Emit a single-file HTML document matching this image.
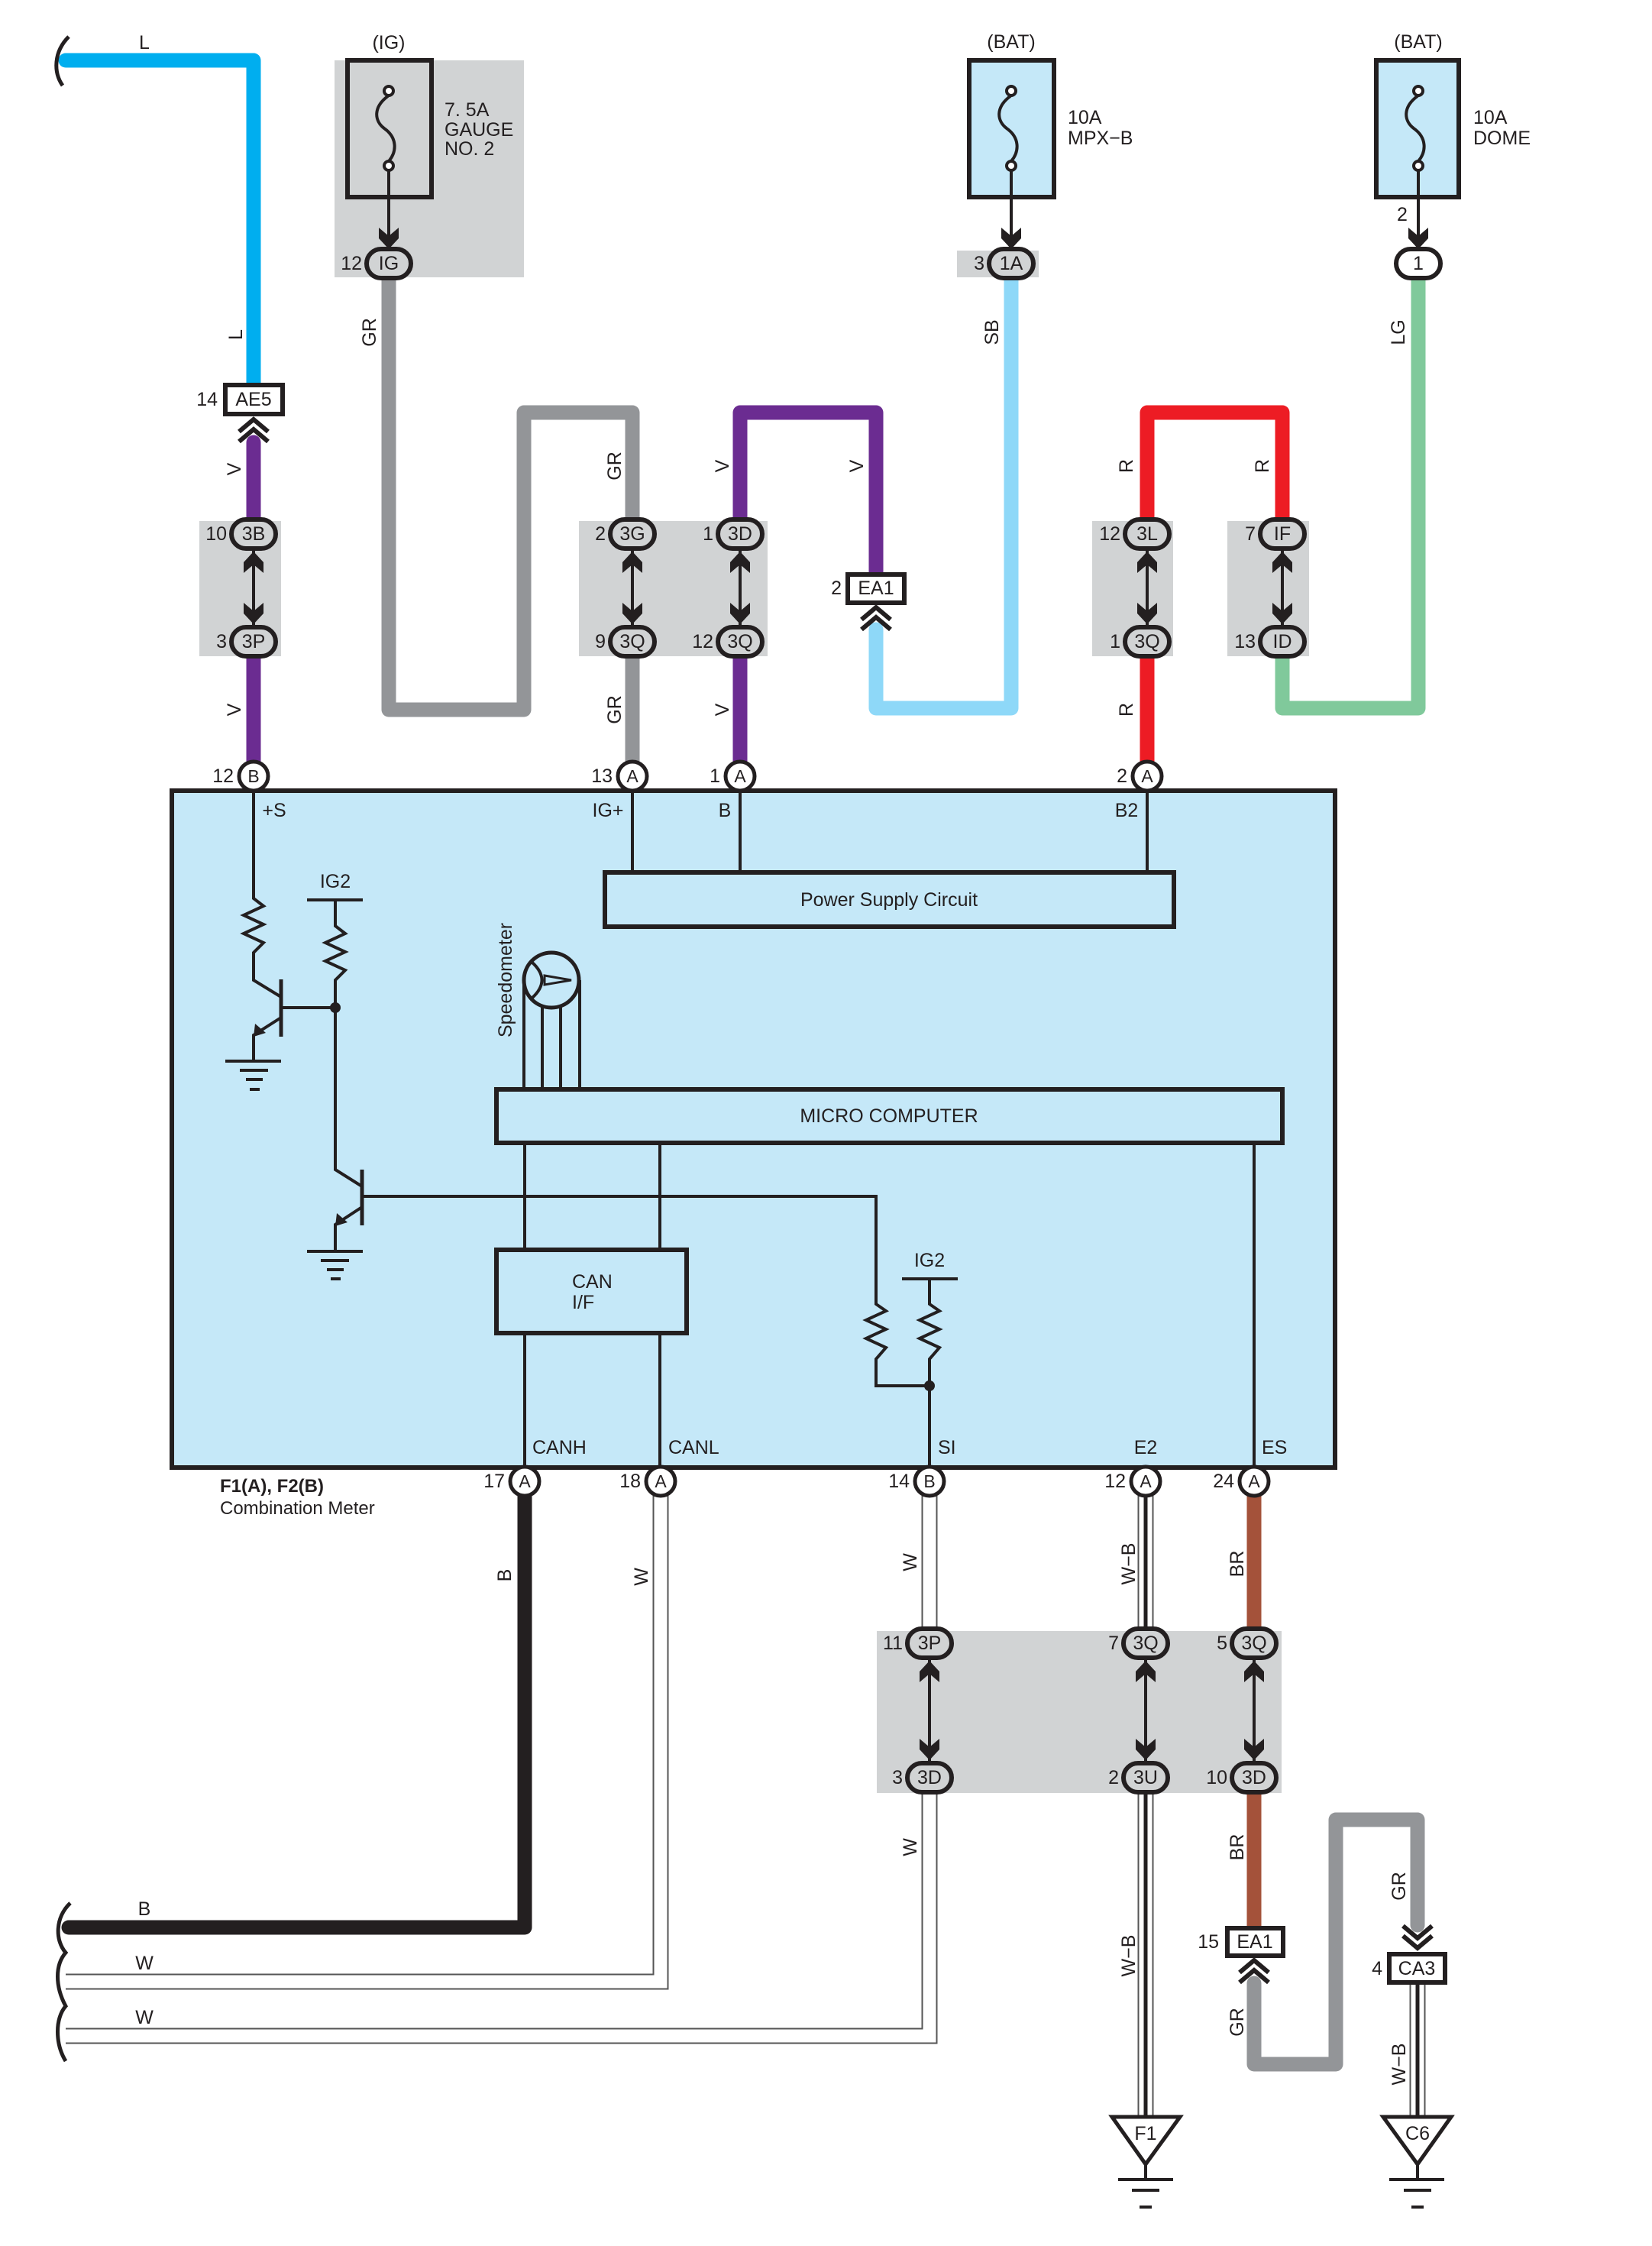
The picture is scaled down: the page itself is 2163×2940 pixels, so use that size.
<!DOCTYPE html>
<html><head><meta charset="utf-8"><style>
html,body{margin:0;padding:0;background:#fff}
svg{display:block}
text{font-family:"Liberation Sans Narrow","Liberation Sans",sans-serif;fill:#231f20;font-size:25px}
.c{text-anchor:middle;dominant-baseline:central}
.r{text-anchor:end;dominant-baseline:central}
.l{text-anchor:start;dominant-baseline:central}
.ln{stroke:#231f20;stroke-width:4;fill:none}
.ov{fill:#d1d3d4;stroke:#231f20;stroke-width:6}
.ovw{fill:#fff;stroke:#231f20;stroke-width:6}
.pin{fill:#fff;stroke:#231f20;stroke-width:5}
.bx{fill:#c5e8f8;stroke:#231f20;stroke-width:6}
.cb{fill:#fff;stroke:#231f20;stroke-width:6}
.w{fill:none;stroke-width:19;stroke-linejoin:round;stroke-linecap:round}
.chev{fill:none;stroke:#231f20;stroke-width:6}
.wo{fill:none;stroke:#555;stroke-width:21}
.wi{fill:none;stroke:#fff;stroke-width:17}
.wb{fill:none;stroke:#231f20;stroke-width:5}
</style></head><body>
<svg width="2163" height="2940" viewBox="0 0 2163 2940" xmlns="http://www.w3.org/2000/svg">
<defs>
<polygon id="au" points="0,0 13,14 13,28 0,17 -13,28 -13,14" fill="#231f20"/>
<polygon id="ad" points="0,0 13,-14 13,-28 0,-17 -13,-28 -13,-14" fill="#231f20"/>
<g id="chu"><polyline class="chev" points="-19,16 0,0 19,16"/><polyline class="chev" points="-19,29 0,13 19,29"/></g>
<g id="chd"><polyline class="chev" points="-19,-16 0,0 19,-16"/><polyline class="chev" points="-19,-29 0,-13 19,-29"/></g>
</defs>

<rect x="438" y="79" width="248" height="284" fill="#d1d3d4"/>
<rect x="1253" y="328" width="107" height="35" fill="#d1d3d4"/>
<rect x="261" y="682" width="107" height="177" fill="#d1d3d4"/>
<rect x="758" y="682" width="247" height="177" fill="#d1d3d4"/>
<rect x="1430" y="682" width="106" height="177" fill="#d1d3d4"/>
<rect x="1607" y="682" width="107" height="177" fill="#d1d3d4"/>

<path class="w" stroke="#00aeef" d="M86,79 H332 V504"/>
<path class="w" stroke="#6b2c91" d="M332,579 V699"/>
<path class="w" stroke="#6b2c91" d="M332,840 V1000"/>
<path class="w" stroke="#939598" d="M509,363 V929 H686 V540 H828 V699"/>
<path class="w" stroke="#939598" d="M828,840 V1000"/>
<path class="w" stroke="#6b2c91" d="M969,699 V540 H1147 V752"/>
<path class="w" stroke="#6b2c91" d="M969,840 V1000"/>
<path class="w" stroke="#8ed8f8" d="M1147,824 V927 H1324 V363"/>
<path class="w" stroke="#ed1c24" d="M1502,699 V540 H1679 V699"/>
<path class="w" stroke="#ed1c24" d="M1502,840 V1000"/>
<path class="w" stroke="#80c99b" d="M1679,840 V927 H1857 V363"/>

<path d="M90,48 C70,68 70,95 82,112" fill="none" stroke="#231f20" stroke-width="5"/>
<text class="c" x="189" y="56">L</text>
<text class="c" transform="translate(309,438) rotate(-90)">L</text>

<rect class="cb" x="295" y="504" width="75" height="38"/>
<text class="c" x="332" y="523">AE5</text>
<text class="r" x="285" y="523">14</text>
<use href="#chu" x="332" y="549"/>
<text class="c" transform="translate(307,614) rotate(-90)">V</text>
<text class="c" transform="translate(307,929) rotate(-90)">V</text>

<line class="ln" x1="332" y1="720" x2="332" y2="820"/>
<use href="#au" x="332" y="722"/><use href="#ad" x="332" y="817"/>
<rect class="ov" x="303" y="680" width="58" height="38" rx="19"/><text class="c" x="332" y="699">3B</text>
<rect class="ov" x="303" y="821" width="58" height="38" rx="19"/><text class="c" x="332" y="840">3P</text>
<text class="r" x="297" y="699">10</text><text class="r" x="297" y="840">3</text>

<text class="c" x="509" y="56">(IG)</text>
<rect x="455" y="79" width="110" height="179" fill="#d1d3d4" stroke="#231f20" stroke-width="6"/>
<circle cx="509" cy="119" r="6" fill="#fff" stroke="#231f20" stroke-width="4"/>
<circle cx="509" cy="217" r="6" fill="#fff" stroke="#231f20" stroke-width="4"/>
<path d="M509,125 C488,140 490,158 503,168 C520,180 520,198 509,211" class="ln"/>
<line class="ln" x1="509" y1="223" x2="509" y2="310"/>
<use href="#ad" x="509" y="326"/>
<rect class="ov" x="480" y="326" width="58" height="38" rx="19"/><text class="c" x="509" y="345">IG</text>
<text class="r" x="474" y="345">12</text>
<text class="l" x="582" y="144">7. 5A</text>
<text class="l" x="582" y="170">GAUGE</text>
<text class="l" x="582" y="195">NO. 2</text>
<text class="c" transform="translate(484,435) rotate(-90)">GR</text>

<line class="ln" x1="828" y1="720" x2="828" y2="820"/>
<use href="#au" x="828" y="722"/><use href="#ad" x="828" y="817"/>
<line class="ln" x1="969" y1="720" x2="969" y2="820"/>
<use href="#au" x="969" y="722"/><use href="#ad" x="969" y="817"/>
<rect class="ov" x="799" y="680" width="58" height="38" rx="19"/><text class="c" x="828" y="699">3G</text>
<rect class="ov" x="799" y="821" width="58" height="38" rx="19"/><text class="c" x="828" y="840">3Q</text>
<rect class="ov" x="940" y="680" width="58" height="38" rx="19"/><text class="c" x="969" y="699">3D</text>
<rect class="ov" x="940" y="821" width="58" height="38" rx="19"/><text class="c" x="969" y="840">3Q</text>
<text class="r" x="793" y="699">2</text><text class="r" x="793" y="840">9</text>
<text class="r" x="934" y="699">1</text><text class="r" x="934" y="840">12</text>
<text class="c" transform="translate(805,610) rotate(-90)">GR</text>
<text class="c" transform="translate(805,929) rotate(-90)">GR</text>
<text class="c" transform="translate(946,610) rotate(-90)">V</text>
<text class="c" transform="translate(946,929) rotate(-90)">V</text>
<text class="c" transform="translate(1122,610) rotate(-90)">V</text>

<rect class="cb" x="1110" y="752" width="74" height="37"/>
<text class="c" x="1147" y="770">EA1</text>
<text class="r" x="1102" y="770">2</text>
<use href="#chu" x="1147" y="795"/>

<text class="c" x="1324" y="55">(BAT)</text>
<rect x="1269" y="79" width="111" height="179" fill="#c5e8f8" stroke="#231f20" stroke-width="6"/>
<circle cx="1324" cy="119" r="6" fill="#fff" stroke="#231f20" stroke-width="4"/>
<circle cx="1324" cy="217" r="6" fill="#fff" stroke="#231f20" stroke-width="4"/>
<path d="M1324,125 C1303,140 1305,158 1318,168 C1335,180 1335,198 1324,211" class="ln"/>
<line class="ln" x1="1324" y1="223" x2="1324" y2="310"/>
<use href="#ad" x="1324" y="326"/>
<rect class="ov" x="1295" y="326" width="58" height="38" rx="19"/><text class="c" x="1324" y="345">1A</text>
<text class="r" x="1289" y="345">3</text>
<text class="l" x="1398" y="154">10A</text>
<text class="l" x="1398" y="181">MPX−B</text>
<text class="c" transform="translate(1299,435) rotate(-90)">SB</text>

<text class="c" x="1857" y="55">(BAT)</text>
<rect x="1802" y="79" width="108" height="179" fill="#c5e8f8" stroke="#231f20" stroke-width="6"/>
<circle cx="1857" cy="119" r="6" fill="#fff" stroke="#231f20" stroke-width="4"/>
<circle cx="1857" cy="217" r="6" fill="#fff" stroke="#231f20" stroke-width="4"/>
<path d="M1857,125 C1836,140 1838,158 1851,168 C1868,180 1868,198 1857,211" class="ln"/>
<line class="ln" x1="1857" y1="223" x2="1857" y2="310"/>
<use href="#ad" x="1857" y="326"/>
<rect class="ovw" x="1828" y="326" width="58" height="38" rx="19"/><text class="c" x="1857" y="345">1</text>
<text class="c" x="1836" y="281">2</text>
<text class="l" x="1929" y="154">10A</text>
<text class="l" x="1929" y="181">DOME</text>
<text class="c" transform="translate(1831,435) rotate(-90)">LG</text>

<line class="ln" x1="1502" y1="720" x2="1502" y2="820"/>
<use href="#au" x="1502" y="722"/><use href="#ad" x="1502" y="817"/>
<line class="ln" x1="1679" y1="720" x2="1679" y2="820"/>
<use href="#au" x="1679" y="722"/><use href="#ad" x="1679" y="817"/>
<rect class="ov" x="1473" y="680" width="58" height="38" rx="19"/><text class="c" x="1502" y="699">3L</text>
<rect class="ov" x="1473" y="821" width="58" height="38" rx="19"/><text class="c" x="1502" y="840">3Q</text>
<rect class="ov" x="1650" y="680" width="58" height="38" rx="19"/><text class="c" x="1679" y="699">IF</text>
<rect class="ov" x="1650" y="821" width="58" height="38" rx="19"/><text class="c" x="1679" y="840">ID</text>
<text class="r" x="1467" y="699">12</text><text class="r" x="1467" y="840">1</text>
<text class="r" x="1644" y="699">7</text><text class="r" x="1644" y="840">13</text>
<text class="c" transform="translate(1475,610) rotate(-90)">R</text>
<text class="c" transform="translate(1653,610) rotate(-90)">R</text>
<text class="c" transform="translate(1475,929) rotate(-90)">R</text>

<rect class="bx" x="225" y="1035" width="1523" height="886"/>

<circle class="pin" cx="332" cy="1016" r="19"/><text class="c" x="332" y="1016" style="font-size:23px">B</text><text class="r" x="306" y="1016">12</text>
<circle class="pin" cx="828" cy="1016" r="19"/><text class="c" x="828" y="1016" style="font-size:23px">A</text><text class="r" x="802" y="1016">13</text>
<circle class="pin" cx="969" cy="1016" r="19"/><text class="c" x="969" y="1016" style="font-size:23px">A</text><text class="r" x="943" y="1016">1</text>
<circle class="pin" cx="1502" cy="1016" r="19"/><text class="c" x="1502" y="1016" style="font-size:23px">A</text><text class="r" x="1476" y="1016">2</text>

<text class="c" x="359" y="1061">+S</text>
<text class="c" x="796" y="1061">IG+</text>
<text class="c" x="949" y="1061">B</text>
<text class="c" x="1475" y="1061">B2</text>

<line class="ln" x1="828" y1="1036" x2="828" y2="1142"/>
<line class="ln" x1="969" y1="1036" x2="969" y2="1142"/>
<line class="ln" x1="1502" y1="1036" x2="1502" y2="1142"/>
<rect class="bx" x="792" y="1142" width="745" height="71"/>
<text class="c" x="1164" y="1178">Power Supply Circuit</text>

<polyline class="ln" points="332,1036 332,1176 345,1186 319,1198 345,1210 319,1222 345,1234 332,1247 332,1283 368,1305"/>
<line class="ln" x1="368" y1="1282" x2="368" y2="1357" style="stroke-width:5"/>
<line class="ln" x1="368" y1="1319" x2="439" y2="1319"/>
<polyline class="ln" points="368,1332 332,1355 332,1389"/>
<polygon points="332,1357 334,1340 348,1352" fill="#231f20"/>
<line class="ln" x1="295" y1="1389" x2="368" y2="1389"/>
<line class="ln" x1="314" y1="1401" x2="351" y2="1401"/>
<line class="ln" x1="322" y1="1413" x2="344" y2="1413"/>
<line class="ln" x1="327" y1="1426" x2="340" y2="1426"/>

<text class="c" x="439" y="1154">IG2</text>
<line class="ln" x1="402" y1="1178" x2="475" y2="1178"/>
<polyline class="ln" points="439,1178 439,1212 452,1222 426,1234 452,1246 426,1258 452,1270 439,1283 439,1531 474,1553"/>
<circle cx="439" cy="1319" r="7" fill="#231f20"/>
<line class="ln" x1="474" y1="1531" x2="474" y2="1604" style="stroke-width:5"/>
<polyline class="ln" points="474,1580 439,1603 439,1638"/>
<polygon points="439,1605 441,1588 455,1600" fill="#231f20"/>
<line class="ln" x1="402" y1="1638" x2="475" y2="1638"/>
<line class="ln" x1="420" y1="1650" x2="457" y2="1650"/>
<line class="ln" x1="428" y1="1662" x2="450" y2="1662"/>
<line class="ln" x1="433" y1="1674" x2="446" y2="1674"/>
<polyline class="ln" points="474,1566 1147,1566 1147,1707 1160,1716 1134,1728 1160,1740 1134,1752 1160,1764 1147,1779 1147,1814 1217,1814"/>

<text class="c" x="1217" y="1650">IG2</text>
<line class="ln" x1="1181" y1="1674" x2="1254" y2="1674"/>
<polyline class="ln" points="1217,1674 1217,1707 1230,1716 1204,1728 1230,1740 1204,1752 1230,1764 1217,1779 1217,1921"/>
<circle cx="1217" cy="1814" r="7" fill="#231f20"/>

<text class="c" transform="translate(662,1283) rotate(-90)">Speedometer</text>
<circle cx="722" cy="1283" r="36" fill="none" stroke="#231f20" stroke-width="5"/>
<path d="M697,1260 Q722,1283 697,1306" fill="none" stroke="#231f20" stroke-width="4"/>
<polygon points="713,1277 748,1283 713,1289" fill="none" stroke="#231f20" stroke-width="3"/>
<line class="ln" x1="686" y1="1283" x2="686" y2="1426"/>
<line class="ln" x1="759" y1="1283" x2="759" y2="1426"/>
<line class="ln" x1="710" y1="1315" x2="710" y2="1426"/>
<line class="ln" x1="734" y1="1317" x2="734" y2="1426"/>

<rect class="bx" x="650" y="1426" width="1029" height="70"/>
<text class="c" x="1164" y="1461">MICRO COMPUTER</text>
<line class="ln" x1="687" y1="1496" x2="687" y2="1636"/>
<line class="ln" x1="864" y1="1496" x2="864" y2="1636"/>
<line class="ln" x1="1642" y1="1496" x2="1642" y2="1921"/>
<rect class="bx" x="650" y="1636" width="249" height="109"/>
<text class="l" x="749" y="1678">CAN</text>
<text class="l" x="749" y="1705">I/F</text>
<line class="ln" x1="687" y1="1745" x2="687" y2="1921"/>
<line class="ln" x1="864" y1="1745" x2="864" y2="1921"/>

<text class="l" x="697" y="1895">CANH</text>
<text class="l" x="875" y="1895">CANL</text>
<text class="l" x="1228" y="1895">SI</text>
<text class="c" x="1500" y="1895">E2</text>
<text class="l" x="1652" y="1895">ES</text>

<text x="288" y="1953" style="font-weight:bold;font-size:24px">F1(A), F2(B)</text>
<text x="288" y="1982" style="font-size:24px">Combination Meter</text>

<!-- lower wires -->
<path class="w" stroke="#231f20" d="M687,1958 V2523 H90"/>
<path class="wo" d="M865,1958 V2594 H86"/><path class="wi" d="M865,1958 V2594 H86"/>
<path class="wo" d="M1217,1958 V2132"/><path class="wi" d="M1217,1958 V2132"/>
<path class="wo" d="M1217,2346 V2665 H86"/><path class="wi" d="M1217,2346 V2665 H86"/>
<path class="wo" d="M1500,1958 V2132"/><path class="wi" d="M1500,1958 V2132"/><path class="wb" d="M1500,1958 V2132"/>
<path class="wo" d="M1500,2346 V2771"/><path class="wi" d="M1500,2346 V2771"/><path class="wb" d="M1500,2346 V2771"/>
<path class="wo" d="M1856,2595 V2771"/><path class="wi" d="M1856,2595 V2771"/><path class="wb" d="M1856,2595 V2771"/>
<path class="w" stroke="#a4523a" d="M1642,1958 V2140"/>
<path class="w" stroke="#a4523a" d="M1642,2340 V2524"/>
<path class="w" stroke="#939598" d="M1642,2596 V2702 H1749 V2382 H1856 V2520"/>

<rect x="1148" y="2135" width="530" height="212" fill="#d1d3d4"/>

<path d="M92,2491 C72,2510 72,2540 86,2556 C72,2572 72,2600 86,2626 C72,2642 72,2675 86,2698" fill="none" stroke="#231f20" stroke-width="5"/>
<text class="c" x="189" y="2499">B</text>
<text class="c" x="189" y="2570">W</text>
<text class="c" x="189" y="2641">W</text>

<circle class="pin" cx="687" cy="1939" r="19"/><text class="c" x="687" y="1939" style="font-size:23px">A</text><text class="r" x="661" y="1939">17</text>
<circle class="pin" cx="865" cy="1939" r="19"/><text class="c" x="865" y="1939" style="font-size:23px">A</text><text class="r" x="839" y="1939">18</text>
<circle class="pin" cx="1217" cy="1939" r="19"/><text class="c" x="1217" y="1939" style="font-size:23px">B</text><text class="r" x="1191" y="1939">14</text>
<circle class="pin" cx="1500" cy="1939" r="19"/><text class="c" x="1500" y="1939" style="font-size:23px">A</text><text class="r" x="1474" y="1939">12</text>
<circle class="pin" cx="1642" cy="1939" r="19"/><text class="c" x="1642" y="1939" style="font-size:23px">A</text><text class="r" x="1616" y="1939">24</text>

<text class="c" transform="translate(661,2062) rotate(-90)">B</text>
<text class="c" transform="translate(840,2064) rotate(-90)">W</text>
<text class="c" transform="translate(1192,2045) rotate(-90)">W</text>
<text class="c" transform="translate(1192,2418) rotate(-90)">W</text>
<text class="c" transform="translate(1478,2047) rotate(-90)">W−B</text>
<text class="c" transform="translate(1478,2560) rotate(-90)">W−B</text>
<text class="c" transform="translate(1620,2047) rotate(-90)">BR</text>
<text class="c" transform="translate(1620,2418) rotate(-90)">BR</text>
<text class="c" transform="translate(1620,2647) rotate(-90)">GR</text>
<text class="c" transform="translate(1832,2469) rotate(-90)">GR</text>
<text class="c" transform="translate(1832,2702) rotate(-90)">W−B</text>

<line class="ln" x1="1217" y1="2172" x2="1217" y2="2306"/>
<use href="#au" x="1217" y="2174"/><use href="#ad" x="1217" y="2304"/>
<line class="ln" x1="1500" y1="2172" x2="1500" y2="2306"/>
<use href="#au" x="1500" y="2174"/><use href="#ad" x="1500" y="2304"/>
<line class="ln" x1="1642" y1="2172" x2="1642" y2="2306"/>
<use href="#au" x="1642" y="2174"/><use href="#ad" x="1642" y="2304"/>
<rect class="ov" x="1188" y="2132" width="58" height="38" rx="19"/><text class="c" x="1217" y="2151">3P</text>
<rect class="ov" x="1188" y="2308" width="58" height="38" rx="19"/><text class="c" x="1217" y="2327">3D</text>
<rect class="ov" x="1471" y="2132" width="58" height="38" rx="19"/><text class="c" x="1500" y="2151">3Q</text>
<rect class="ov" x="1471" y="2308" width="58" height="38" rx="19"/><text class="c" x="1500" y="2327">3U</text>
<rect class="ov" x="1613" y="2132" width="58" height="38" rx="19"/><text class="c" x="1642" y="2151">3Q</text>
<rect class="ov" x="1613" y="2308" width="58" height="38" rx="19"/><text class="c" x="1642" y="2327">3D</text>
<text class="r" x="1182" y="2151">11</text><text class="r" x="1182" y="2327">3</text>
<text class="r" x="1465" y="2151">7</text><text class="r" x="1465" y="2327">2</text>
<text class="r" x="1607" y="2151">5</text><text class="r" x="1607" y="2327">10</text>

<rect class="cb" x="1607" y="2524" width="73" height="36"/>
<text class="c" x="1643" y="2542">EA1</text>
<text class="r" x="1596" y="2542">15</text>
<use href="#chu" x="1642" y="2566"/>
<use href="#chd" x="1856" y="2550"/>
<rect class="cb" x="1819" y="2558" width="73" height="37"/>
<text class="c" x="1855" y="2577">CA3</text>
<text class="r" x="1810" y="2577">4</text>

<polygon points="1456,2771 1545,2771 1500,2833" fill="#fff" stroke="#231f20" stroke-width="5"/>
<text class="c" x="1500" y="2793">F1</text>
<line class="ln" x1="1500" y1="2833" x2="1500" y2="2853"/>
<line class="ln" x1="1464" y1="2853" x2="1536" y2="2853"/>
<line class="ln" x1="1482" y1="2867" x2="1518" y2="2867"/>
<line class="ln" x1="1492" y1="2889" x2="1508" y2="2889"/>
<polygon points="1811,2771 1900,2771 1856,2833" fill="#fff" stroke="#231f20" stroke-width="5"/>
<text class="c" x="1856" y="2793">C6</text>
<line class="ln" x1="1856" y1="2833" x2="1856" y2="2853"/>
<line class="ln" x1="1819" y1="2853" x2="1891" y2="2853"/>
<line class="ln" x1="1838" y1="2867" x2="1874" y2="2867"/>
<line class="ln" x1="1848" y1="2889" x2="1864" y2="2889"/>
</svg>
</body></html>
